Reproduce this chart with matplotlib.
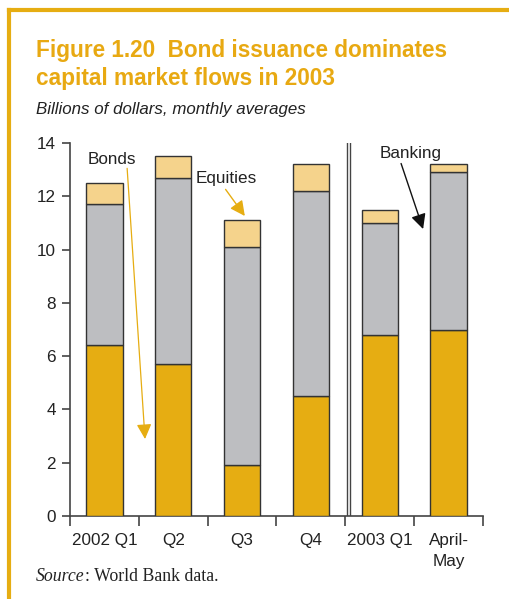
import matplotlib
matplotlib.use("Agg")
import matplotlib.pyplot as plt
from matplotlib.lines import Line2D
import numpy as np

categories = ["2002 Q1", "Q2", "Q3", "Q4", "2003 Q1", "April-\nMay"]
bonds = [6.4, 5.7, 1.9, 4.5, 6.8, 7.0]
banking = [5.3, 7.0, 8.2, 7.7, 4.2, 5.9]
equities = [0.8, 0.8, 1.0, 1.0, 0.5, 0.3]
yticks = [0, 2, 4, 6, 8, 10, 12, 14]

GOLD = "#E6AD12"
GRAY = "#BDBEC1"
LIGHT = "#F5D38C"
EDGE = "#333333"
TITLE = "#E8A912"
FONT = "Liberation Sans"

W, H = 510, 599
fig = plt.figure(figsize=(W / 100, H / 100), dpi=100)

# frame lines (top and left)
fig.add_artist(Line2D([9 / W, 1], [1 - 10 / H, 1 - 10 / H], color=GOLD, lw=3.0,
                      transform=fig.transFigure))
fig.add_artist(Line2D([9 / W, 9 / W], [0, 1 - 10 / H], color=GOLD, lw=3.0,
                      transform=fig.transFigure))

fig.text(36 / W, 1 - 57 / H, "Figure 1.20  Bond issuance dominates",
         color=TITLE, fontsize=16.3, fontweight="bold", family=FONT)
fig.text(36 / W, 1 - 85 / H, "capital market flows in 2003",
         color=TITLE, fontsize=16.3, fontweight="bold", family=FONT)
fig.text(36 / W, 1 - 114 / H, "Billions of dollars, monthly averages",
         color="#222222", fontsize=12.2, style="italic", family=FONT)

ax = fig.add_axes([70 / W, 1 - 516 / H, (483 - 70) / W, (516 - 143) / H])
x = np.arange(len(categories)) + 0.5
b1 = np.array(bonds)
b2 = b1 + np.array(banking)
bw = 0.53
ax.bar(x, bonds, bw, color=GOLD, edgecolor=EDGE, lw=1.0, zorder=3)
ax.bar(x, banking, bw, bottom=b1, color=GRAY, edgecolor=EDGE, lw=1.0, zorder=3)
ax.bar(x, equities, bw, bottom=b2, color=LIGHT, edgecolor=EDGE, lw=1.0, zorder=3)

ax.set_xlim(0, 6)
ax.set_ylim(0, 14)
ax.set_yticks(yticks)
ax.set_xticks(np.arange(0, 7))
ax.set_xticklabels([])
ax.set_xticks(x, minor=True)
ax.set_xticklabels(categories, minor=True, fontsize=12.3, family=FONT,
                   color="#222222", linespacing=1.5)
ax.tick_params(axis="x", which="minor", length=0, pad=12)
ax.tick_params(axis="x", which="major", length=7, width=1.2, color="#444444")
ax.tick_params(axis="y", length=6, width=1.2, color="#444444", labelsize=12.3,
               pad=4, labelcolor="#222222")
for lab in ax.get_yticklabels():
    lab.set_family(FONT)
for s in ["top", "right"]:
    ax.spines[s].set_visible(False)
for s in ["left", "bottom"]:
    ax.spines[s].set_color("#444444")
    ax.spines[s].set_linewidth(1.2)

# separator between 2002 and 2003
for xv in (4.02, 4.065):
    ax.axvline(xv, color="#444444", lw=1.0, zorder=4)

# annotations
head = "-|>,head_length=0.9,head_width=0.45"
ax.annotate("", xy=(1.09, 2.89), xytext=(0.83, 13.05),
            arrowprops=dict(arrowstyle=head, color=GOLD, lw=0.9,
                            shrinkA=0, shrinkB=0))
ax.text(0.26, 13.2, "Bonds", fontsize=12.3, family=FONT, color="#222222")
ax.annotate("", xy=(2.54, 11.26), xytext=(2.26, 12.26),
            arrowprops=dict(arrowstyle=head, color=GOLD, lw=1.0,
                            shrinkA=0, shrinkB=0))
ax.text(1.83, 12.5, "Equities", fontsize=12.3, family=FONT, color="#222222")
ax.annotate("", xy=(5.13, 10.77), xytext=(4.81, 13.23),
            arrowprops=dict(arrowstyle=head, color="#111111", lw=1.0,
                            shrinkA=0, shrinkB=0))
ax.text(4.5, 13.45, "Banking", fontsize=12.3, family=FONT, color="#222222")

# source line: italic "Source" followed by roman text
src = fig.text(36 / W, 1 - 581 / H, "Source", fontsize=12.8, style="italic",
               family="Liberation Serif", color="#222222")
r = fig.canvas.get_renderer()
bb = src.get_window_extent(renderer=r)
fig.text(bb.x1 / W, 1 - 581 / H, ": World Bank data.", fontsize=12.8,
         family="Liberation Serif", color="#222222")

fig.savefig("out.png", dpi=100)
